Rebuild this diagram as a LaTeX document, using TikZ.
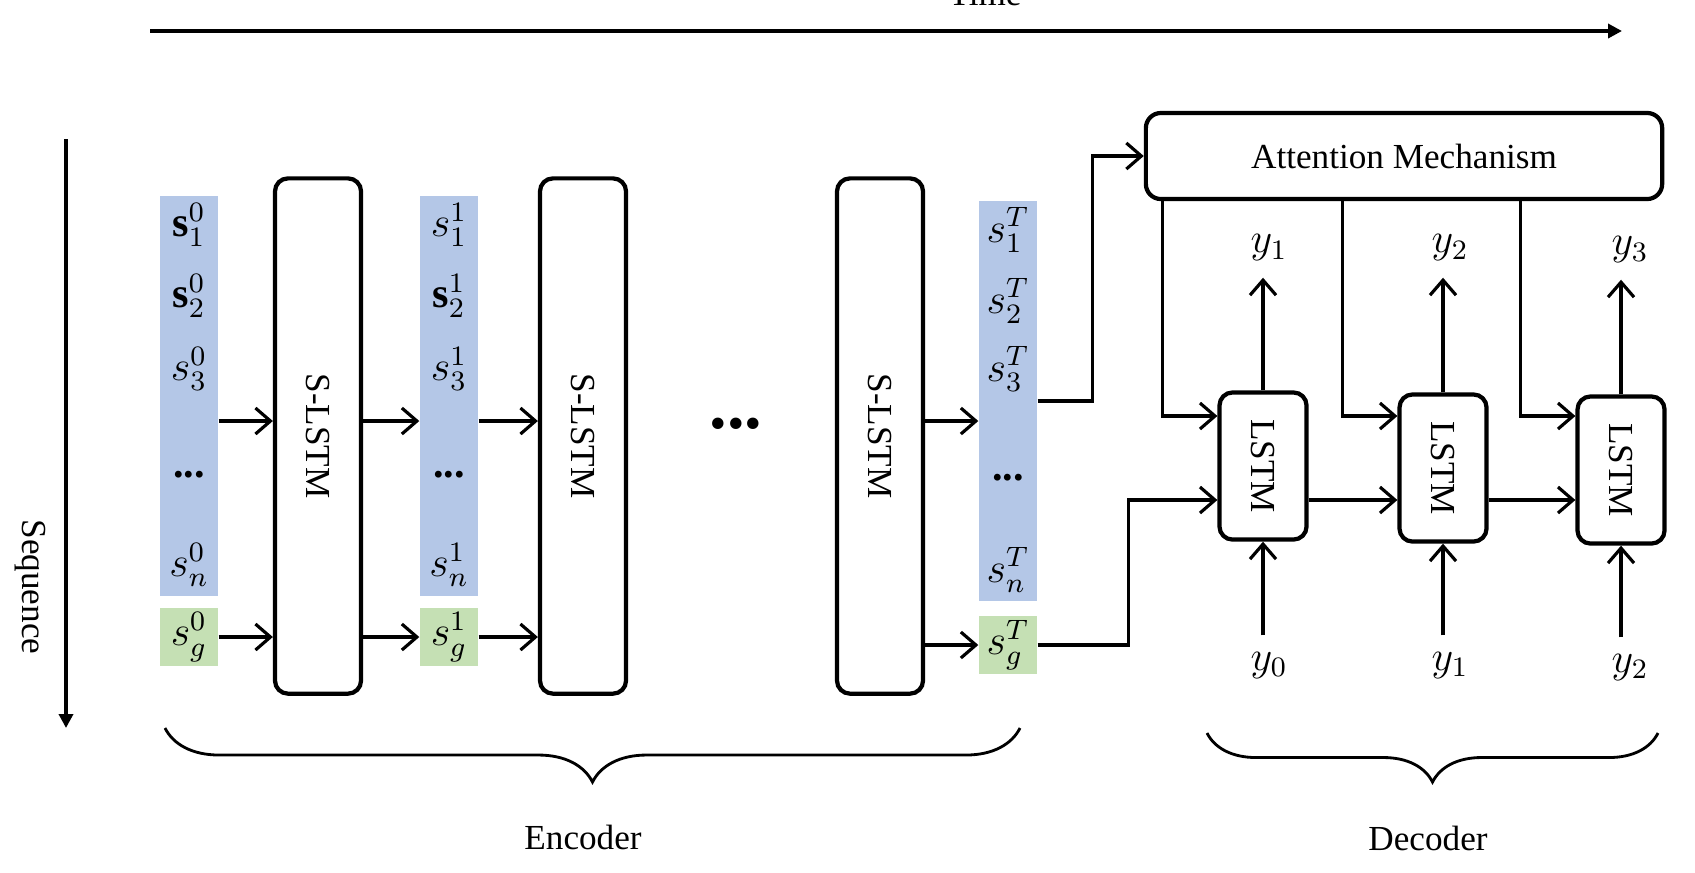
\documentclass[tikz,border=0pt]{standalone}
\usepackage{graphicx}
\usepackage{fontspec}
\setmainfont{Liberation Serif}
\usetikzlibrary{arrows.meta,decorations.pathreplacing}
\definecolor{cellblue}{RGB}{180,199,231}
\definecolor{cellgreen}{RGB}{197,224,180}
\tikzset{
  cellcol/.style={fill=cellblue, minimum width=5.8mm, minimum height=39.9mm, inner sep=0},
  gcell/.style={fill=cellgreen, minimum width=5.8mm, minimum height=5.8mm, inner sep=0, font=\large},
  ent/.style={font=\large, inner sep=0},
  slstm/.style={draw, line width=1.2pt, rounded corners=1.3mm,
                minimum width=8.6mm, minimum height=51.5mm},
  lstm/.style={draw, line width=1.2pt, rounded corners=1.3mm,
               minimum width=8.7mm, minimum height=14.7mm},
  attnbox/.style={draw, line width=1.2pt, rounded corners=1.5mm,
                  minimum width=51.6mm, minimum height=8.6mm},
  arr/.style={line width=0.9pt, -{Straight Barb[length=1.5mm,width=2.6mm]}},
  axis/.style={line width=1.2pt, -{Triangle[length=1.4mm,width=1.4mm]}},
  lab/.style={font=\large, minimum height=5.8mm, inner sep=0},
  curly/.style={decorate, decoration={brace, mirror, amplitude=#1}, line width=0.8pt},
}
\begin{document}
\begin{tikzpicture}[x=0.01cm, y=-0.01cm]
  \useasboundingbox (0,0) rectangle (1695,872);
  % time and sequence axes
  \coordinate (t0) at (150,31);
  \coordinate (t1) at (1622,31);
  \draw[axis] (t0) -- (t1);
  \node (time) [anchor=base] at (985,5) {Time};
  \coordinate (q0) at (66,139);
  \coordinate (q1) at (66,728);
  \draw[axis] (q0) -- (q1);
  \node (seq) [rotate=-90] at (30,587) {Sequence};

  % encoder
  \node (b0) [cellcol] at (189,396) {};
  \node (g0) [gcell] at (189,637) {$s_g^0$};
  \node (s01) [ent] at (189,225) {$\mathbf{s}_1^0$};
  \node (s02) [ent] at (189,296) {$\mathbf{s}_2^0$};
  \node (s03) [ent] at (189,369) {$s_3^0$};
  \node (s0d) [ent] at (189,475) {\textbf{...}};
  \node (s0n) [ent] at (189,565) {$s_n^0$};

  \node (sl1) [slstm] at (318,436) {\rotatebox{-90}{S-LSTM}};

  \node (b1) [cellcol] at (449,396) {};
  \node (g1) [gcell] at (449,637) {$s_g^1$};
  \node (s11) [ent] at (449,225) {$s_1^1$};
  \node (s12) [ent] at (449,296) {$\mathbf{s}_2^1$};
  \node (s13) [ent] at (449,369) {$s_3^1$};
  \node (s1d) [ent] at (449,475) {\textbf{...}};
  \node (s1n) [ent] at (449,565) {$s_n^1$};

  \node (sl2) [slstm] at (583,436) {\rotatebox{-90}{S-LSTM}};
  \node (gap) [anchor=base, font=\fontsize{20}{20}\selectfont\bfseries] at (736,428) {...};
  \node (sl3) [slstm] at (880,436) {\rotatebox{-90}{S-LSTM}};

  \node (bT) [cellcol] at (1008,401) {};
  \node (gT) [gcell] at (1008,645) {$s_g^T$};
  \node (sT1) [ent] at (1008,230) {$s_1^T$};
  \node (sT2) [ent] at (1008,301) {$s_2^T$};
  \node (sT3) [ent] at (1008,369) {$s_3^T$};
  \node (sTd) [ent] at (1008,478) {\textbf{...}};
  \node (sTn) [ent] at (1008,570) {$s_n^T$};

  \coordinate (mrow) at (0,421);
  \draw[arr] (b0.east |- mrow) -- (sl1.west |- mrow);
  \draw[arr] (g0) -- (g0 -| sl1.west);
  \draw[arr] (sl1.east |- mrow) -- (b1.west |- mrow);
  \draw[arr] (sl1.east |- g1) -- (g1);
  \draw[arr] (b1.east |- mrow) -- (sl2.west |- mrow);
  \draw[arr] (g1) -- (g1 -| sl2.west);
  \draw[arr] (sl3.east |- mrow) -- (bT.west |- mrow);
  \draw[arr] (sl3.east |- gT) -- (gT);

  % decoder
  \node (att) [attnbox] at (1404,156) {Attention Mechanism};
  \node (l1) [lstm] at (1263,466) {\rotatebox{-90}{LSTM}};
  \node (l2) [lstm] at (1443,468) {\rotatebox{-90}{LSTM}};
  \node (l3) [lstm] at (1621,470) {\rotatebox{-90}{LSTM}};

  \node (o1) [lab] at (1269,248) {$y_1$};
  \node (o2) [lab] at (1450,248) {$y_2$};
  \node (o3) [lab] at (1630,250) {$y_3$};
  \node (i1) [lab] at (1269,665) {$y_0$};
  \node (i2) [lab] at (1450,665) {$y_1$};
  \node (i3) [lab] at (1630,667) {$y_2$};

  \coordinate (arow) at (0,416);
  \coordinate (crow) at (0,500);
  \draw[arr] (bT.east) -- ++(55,0) |- (att.west);
  \draw[arr] (gT.east) -- ++(91,0) |- (l1.west |- crow);
  \draw[arr] (l1.east |- crow) -- (l2.west |- crow);
  \draw[arr] (l2.east |- crow) -- (l3.west |- crow);
  \foreach \l in {l1,l2,l3}
    \draw[arr] ([xshift=-5.5mm]\l.west |- att.south) |- (\l.west |- arow);
  \foreach \l/\o/\i in {l1/o1/i1,l2/o2/i2,l3/o3/i3} {
    \draw[arr] (\l.north) -- (\l.north |- \o.south);
    \draw[arr] (\l.south |- \i.north) -- (\l.south);
  }

  % braces
  \coordinate (e0) at (165,728);
  \coordinate (e1) at (1020,728);
  \draw[curly=5.4mm] (e0) -- (e1);
  \node (enc) at (583,837) {Encoder};
  \coordinate (d0) at (1207,733);
  \coordinate (d1) at (1658,733);
  \draw[curly=4.9mm] (d0) -- (d1);
  \node (dec) at (1428,838) {Decoder};
\end{tikzpicture}
\end{document}
